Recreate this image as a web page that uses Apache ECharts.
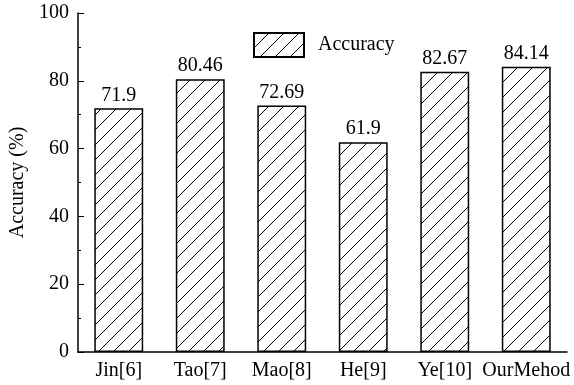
<!DOCTYPE html>
<html>
<head>
<meta charset="utf-8">
<script src="https://cdn.jsdelivr.net/npm/echarts@6/dist/echarts.min.js"></script>
<style>
  html, body { margin: 0; padding: 0; background: #fff; }
  #chart { width: 574px; height: 385px; }
</style>
</head>
<body>
<div id="chart"></div>
<script>
  var methods = ['Jin[6]', 'Tao[7]', 'Mao[8]', 'He[9]', 'Ye[10]', 'OurMehod']
  var accuracy = [71.9, 80.46, 72.69, 61.9, 82.67, 84.14]
  var seriesName = 'Accuracy'

  var FONT = '"Liberation Serif", "Times New Roman", serif'

  // hatch tile "/"
  function hatch() {
    var s = 15
    var c = document.createElement('canvas')
    c.width = s
    c.height = s
    var ctx = c.getContext('2d')
    ctx.fillStyle = '#fff'
    ctx.fillRect(0, 0, s, s)
    ctx.strokeStyle = '#000'
    ctx.lineWidth = 1
    ctx.beginPath()
    ctx.moveTo(-1, s + 1)
    ctx.lineTo(s + 1, -1)
    ctx.moveTo(-1, 1)
    ctx.lineTo(1, -1)
    ctx.moveTo(s - 1, s + 1)
    ctx.lineTo(s + 1, s - 1)
    ctx.stroke()
    return c
  }

  var dom = echarts.init(document.getElementById('chart'))
  var option = {
    animation: false,
    backgroundColor: '#fff',
    textStyle: { fontFamily: FONT, color: '#000' },
    grid: { left: 76, right: 7, top: 13, bottom: 33 },
    legend: {
      data: [seriesName],
      icon: 'rect',
      left: 248,
      top: 27,
      itemWidth: 50,
      itemHeight: 24,
      textStyle: { fontFamily: FONT, fontSize: 20, color: '#000', padding: [0, 0, 0, 9] }
    },
    xAxis: {
      type: 'category',
      data: methods,
      axisLine: { lineStyle: { color: '#000', width: 1.5 } },
      axisTick: { inside: true, alignWithLabel: true, length: 5, lineStyle: { color: '#000' } },
      axisLabel: { fontFamily: FONT, fontSize: 20, color: '#000', margin: 9, interval: 0 }
    },
    yAxis: {
      type: 'value',
      min: 0,
      max: 100,
      interval: 20,
      name: 'Accuracy (%)',
      nameLocation: 'middle',
      nameGap: 50,
      nameTextStyle: { fontFamily: FONT, fontSize: 20, color: '#000' },
      axisLine: { show: true, lineStyle: { color: '#000', width: 1.5 } },
      axisTick: { show: true, inside: true, length: 6, lineStyle: { color: '#000' } },
      minorTick: { show: true, splitNumber: 2, length: 3, lineStyle: { color: '#000' } },
      axisLabel: { fontFamily: FONT, fontSize: 20, color: '#000', margin: 9 },
      splitLine: { show: false }
    },
    series: [{
      name: seriesName,
      type: 'bar',
      data: accuracy,
      barWidth: '60%',
      itemStyle: {
        color: { image: hatch(), repeat: 'repeat' },
        borderColor: '#000',
        borderWidth: 1.5
      },
      label: {
        show: true,
        position: 'top',
        distance: 3,
        fontFamily: FONT,
        fontSize: 20,
        color: '#000'
      }
    }]
  }
  dom.setOption(option)
</script>
</body>
</html>
